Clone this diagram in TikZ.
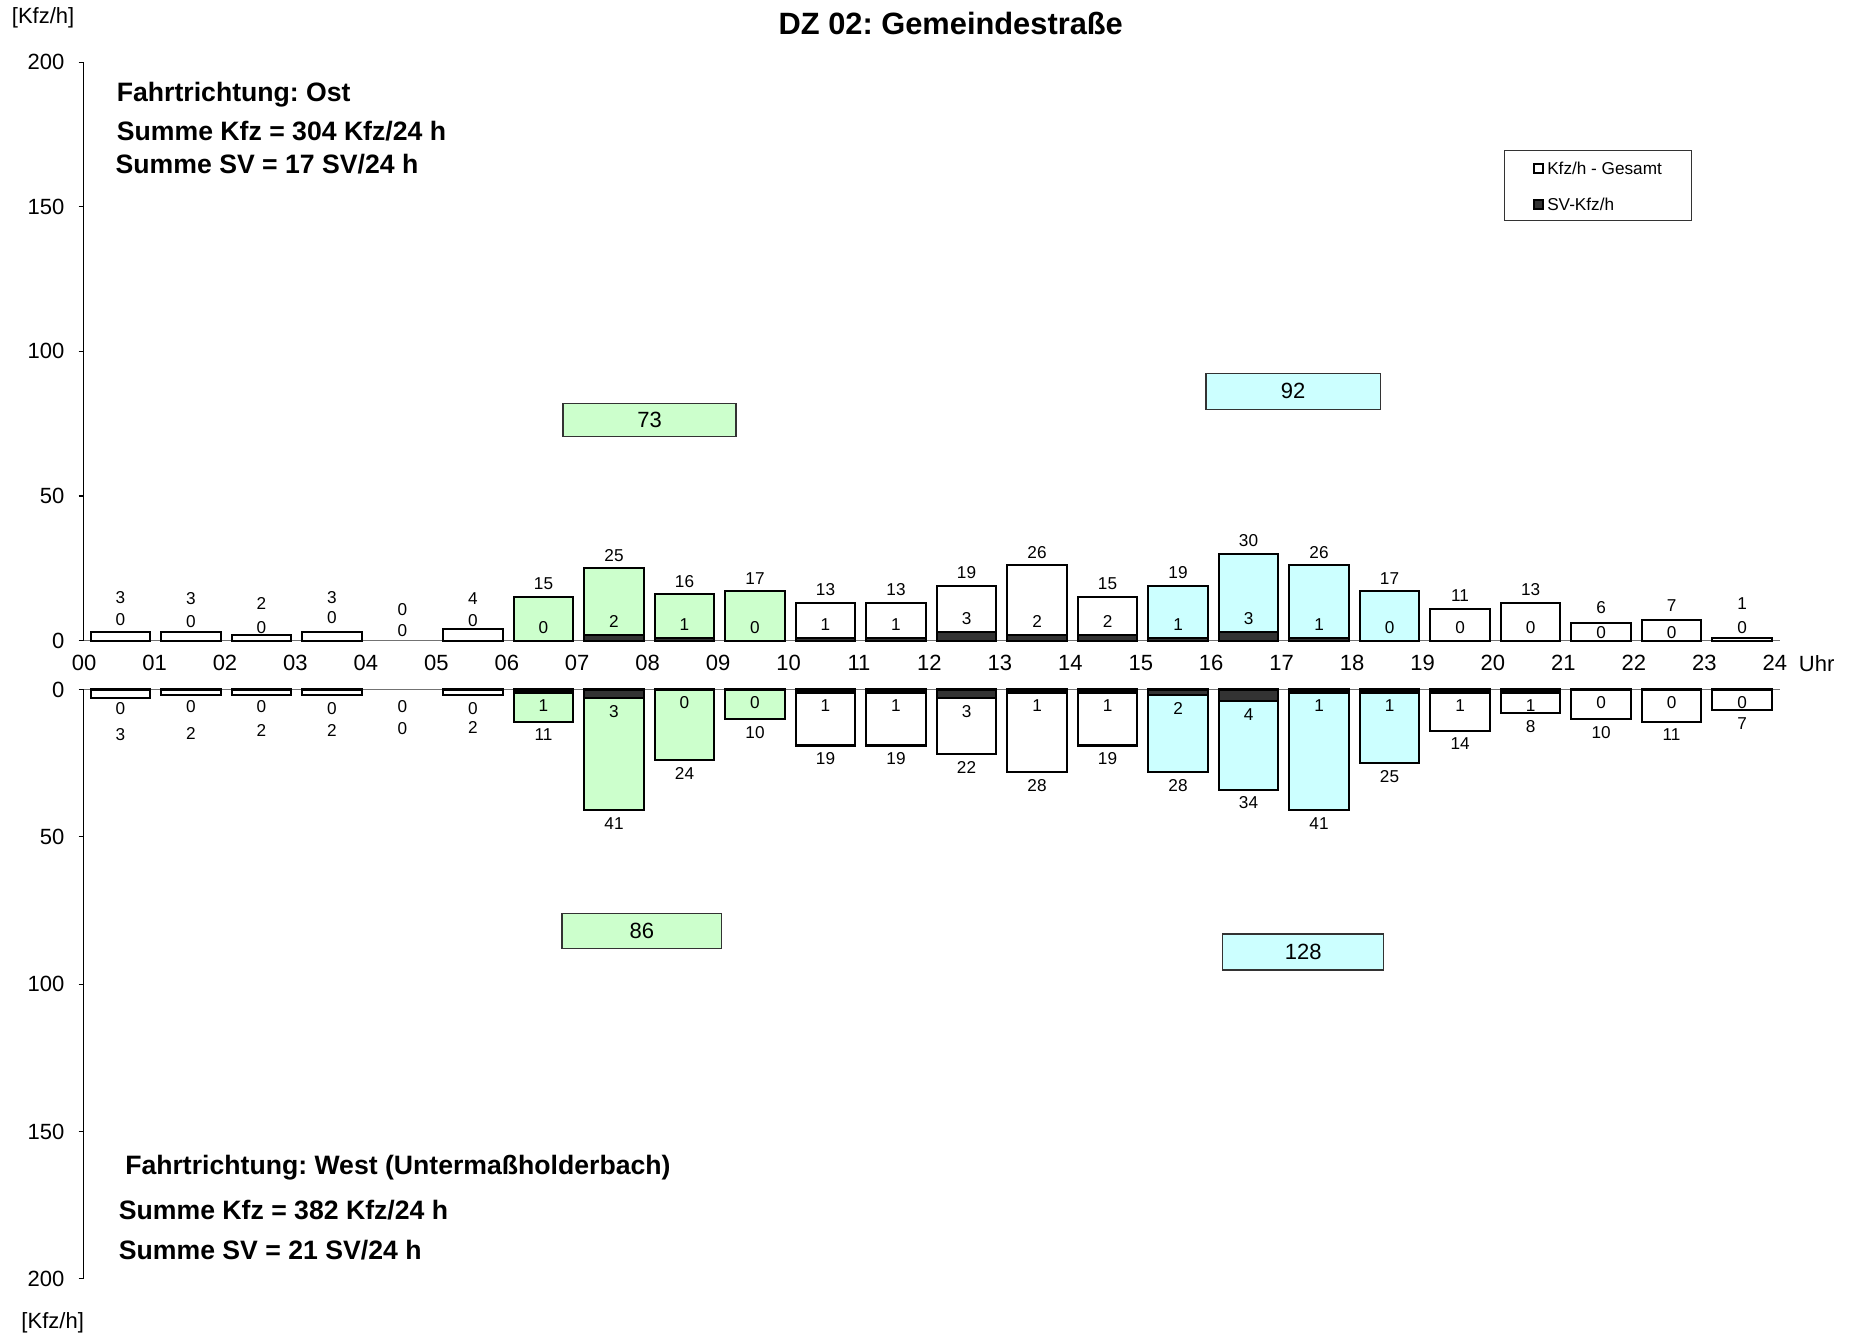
\documentclass[tikz,border=0pt]{standalone}
\usepackage{fontspec}
\setmainfont{Liberation Sans}
\definecolor{grn}{HTML}{CCFFCC}
\definecolor{cyn}{HTML}{CCFFFF}
\definecolor{svc}{HTML}{333333}
\newcommand\fsz[1]{\fontsize{#1}{#1}\selectfont}
\frenchspacing
\begin{document}
\begin{tikzpicture}[x=0.2mm,y=-0.2mm,
  every node/.style={inner sep=0pt, outer sep=0pt},
  bar/.style={draw=black, line width=1pt},
  lbl/.style={font=\fsz{8.2}},
  axlbl/.style={font=\fsz{10.5}},
  info/.style={font=\fsz{12.7}\bfseries, anchor=west},
  peak/.style={draw=black!80, line width=0.6pt},
  peaklbl/.style={font=\fsz{10.5}},
  yaxis/.style={draw=black, line width=0.5pt},
  xaxis/.style={draw=black!55, line width=0.6pt}]
\useasboundingbox (0,0) rectangle (1560,1121);
\fill[white] (0,0) rectangle (1560,1121);

% title and units
\node[font=\fsz{14.7}\bfseries] (title) at (797,20) {DZ 02: Gemeindestraße};
\node[axlbl, anchor=west] (unitTop) at (10,15) {[Kfz/h]};
\node[axlbl, anchor=west] (unitBot) at (18,1109) {[Kfz/h]};

% top axis
\draw[yaxis] (70,52) -- (70,537);
\foreach \t [count=\i from 0] in {0,50,100,150,200}{
  \pgfmathsetmacro\yy{537-\t*2.425}
  \draw[yaxis] (66,\yy) -- (70,\yy);
  \node[axlbl, anchor=east] (yt\i) at (54,\yy) {\t};
}
% bottom axis
\draw[yaxis] (70,578) -- (70,1072);
\foreach \t [count=\i from 0] in {0,50,100,150,200}{
  \pgfmathsetmacro\yy{578+\t*2.47}
  \draw[yaxis] (66,\yy) -- (70,\yy);
  \node[axlbl, anchor=east] (yb\i) at (54,\yy) {\t};
}
\draw[xaxis] (70,537) -- (1492,537);
\draw[xaxis] (70,578) -- (1492,578);

% hour labels
\foreach \h in {0,...,24}{
  \pgfmathsetmacro\xx{70.5+\h*59.05}
  \node[axlbl] (hr\h) at (\xx,556) {\ifnum\h<10 0\fi\h};
}
\node[axlbl, anchor=west] (uhr) at (1508,556) {Uhr};

% top bars: hour/kfz/sv/colour/kfz-label-y/sv-label-y (-1 = default)
\foreach \h/\kv/\sv/\col/\ka/\sa in {
 0/3/0/white/501/519, 1/3/0/white/502/521, 2/2/0/white/506/526,
 3/3/0/white/501/518, 4/0/0/white/511/529, 5/4/0/white/502/520,
 6/15/0/grn/-1/-1, 7/25/2/grn/-1/-1, 8/16/1/grn/-1/-1, 9/17/0/grn/-1/-1,
 10/13/1/white/-1/-1, 11/13/1/white/-1/-1, 12/19/3/white/-1/-1,
 13/26/2/white/-1/-1, 14/15/2/white/-1/-1,
 15/19/1/cyn/-1/-1, 16/30/3/cyn/-1/-1, 17/26/1/cyn/-1/-1, 18/17/0/cyn/-1/-1,
 19/11/0/white/-1/-1, 20/13/0/white/-1/-1, 21/6/0/white/509/530,
 22/7/0/white/508/530, 23/1/0/white/506/526}{
  \pgfmathsetmacro\xl{70.5+\h*59.1+5.5}
  \pgfmathsetmacro\xr{\xl+50}
  \pgfmathsetmacro\xc{\xl+25}
  \pgfmathsetmacro\yt{537-\kv*2.425}
  \pgfmathsetmacro\ys{537-\sv*2.425}
  \pgfmathsetmacro\ky{(\ka<0) ? (\yt-11) : (\ka)}
  \pgfmathsetmacro\sy{(\sa<0) ? (\ys-11) : (\sa)}
  \ifnum\kv>0 \draw[bar, fill=\col] (\xl,537) rectangle (\xr,\yt); \fi
  \ifnum\sv>0 \draw[bar, fill=svc] (\xl,537) rectangle (\xr,\ys); \fi
  \node[lbl] (tk\h) at (\xc,\ky) {\kv};
  \node[lbl] (ts\h) at (\xc,\sy) {\sv};
}

% bottom bars: hour/sv/kfz/colour/sv-label-y/kfz-label-y
\foreach \h/\sv/\kv/\col/\sa/\ka in {
 0/0/3/white/594/616, 1/0/2/white/592/614.5, 2/0/2/white/592/612,
 3/0/2/white/594/612, 4/0/0/white/592/611, 5/0/2/white/594/610,
 6/1/11/grn/-1/-1, 7/3/41/grn/-1/-1, 8/0/24/grn/-1/-1, 9/0/10/grn/-1/-1,
 10/1/19/white/-1/-1, 11/1/19/white/-1/-1, 12/3/22/white/-1/-1,
 13/1/28/white/-1/-1, 14/1/19/white/-1/-1,
 15/2/28/cyn/-1/-1, 16/4/34/cyn/-1/-1, 17/1/41/cyn/-1/-1, 18/1/25/cyn/-1/-1,
 19/1/14/white/-1/-1, 20/1/8/white/-1/-1, 21/0/10/white/-1/-1,
 22/0/11/white/-1/-1, 23/0/7/white/-1/-1}{
  \pgfmathsetmacro\xl{70.5+\h*59.1+5.5}
  \pgfmathsetmacro\xr{\xl+50}
  \pgfmathsetmacro\xc{\xl+25}
  \pgfmathsetmacro\yt{578+\kv*2.47}
  \pgfmathsetmacro\ys{578+\sv*2.47}
  \pgfmathsetmacro\ky{(\ka<0) ? (\yt+11) : (\ka)}
  \pgfmathsetmacro\sy{(\sa<0) ? (\ys+11) : (\sa)}
  \ifnum\kv>0 \draw[bar, fill=\col] (\xl,578) rectangle (\xr,\yt); \fi
  \ifnum\sv>0 \draw[bar, fill=svc] (\xl,578) rectangle (\xr,\ys); \fi
  \node[lbl] (bk\h) at (\xc,\ky) {\kv};
  \node[lbl] (bs\h) at (\xc,\sy) {\sv};
}

% peak boxes
\draw[peak, fill=grn] (472,338) rectangle (617,366);
\node[peaklbl] (pk1) at (544.5,352) {73};
\draw[peak, fill=cyn] (1011,313) rectangle (1157,343);
\node[peaklbl] (pk2) at (1084,328) {92};
\draw[peak, fill=grn] (471,766) rectangle (605,795);
\node[peaklbl] (pk3) at (538,780.5) {86};
\draw[peak, fill=cyn] (1025,783) rectangle (1160,813);
\node[peaklbl] (pk4) at (1092.5,798) {128};

% legend
\draw[draw=black!80, line width=0.6pt] (1261,126) rectangle (1418,185);
\draw[draw=black, line width=0.9pt, fill=white] (1286,137.5) rectangle (1293.5,145);
\node[font=\fsz{8.2}, anchor=west] (leg1) at (1297,141) {Kfz/h - Gesamt};
\draw[draw=black, line width=0.9pt, fill=svc] (1286,167.5) rectangle (1293.5,175);
\node[font=\fsz{8.2}, anchor=west] (leg2) at (1297,171) {SV-Kfz/h};

% info texts
\node[info] (i1) at (98,79) {Fahrtrichtung: Ost};
\node[info] (i2) at (98,110) {Summe Kfz = 304 Kfz/24 h};
\node[info] (i3) at (97,137.5) {Summe SV = 17 SV/24 h};
\node[info] (i4) at (105,979) {Fahrtrichtung: West (Untermaßholderbach)};
\node[info] (i5) at (99.7,1014) {Summe Kfz = 382 Kfz/24 h};
\node[info] (i6) at (99.7,1048) {Summe SV = 21 SV/24 h};
\end{tikzpicture}
\end{document}
